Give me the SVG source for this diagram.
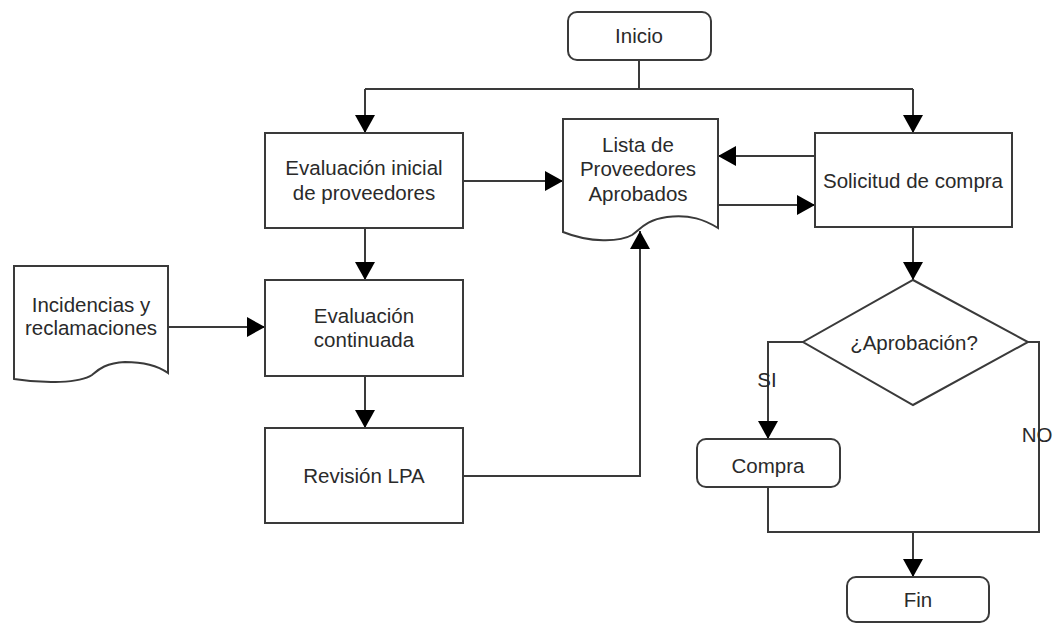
<svg xmlns="http://www.w3.org/2000/svg" width="1055" height="623" viewBox="0 0 1055 623">
<defs>
<marker id="ah" markerWidth="20" markerHeight="20" refX="18" refY="10" orient="auto" markerUnits="userSpaceOnUse">
<path d="M0,0 L18,10 L0,20 Z" fill="#000"/>
</marker>
<style>
.n{fill:#fff;stroke:#3a3a3a;stroke-width:2}
.t{font-family:"Liberation Sans",Arial,sans-serif;font-size:20.5px;fill:#2a2a2a;text-anchor:middle}
.c{fill:none;stroke:#3a3a3a;stroke-width:2}
.a{fill:none;stroke:#3a3a3a;stroke-width:2;marker-end:url(#ah)}
</style>
</defs>
<rect width="1055" height="623" fill="#fff"/>
<g id="connectors">
<path class="c" d="M639,60 V89 M365,89 H913"/>
<path class="a" d="M365,89 V133"/>
<path class="a" d="M913,89 V133"/>
<path class="a" d="M463,181 H563"/>
<path class="a" d="M815,156 H718"/>
<path class="a" d="M718,205 H815"/>
<path class="a" d="M365,228 V280"/>
<path class="a" d="M168,327 H265"/>
<path class="a" d="M365,376 V428"/>
<path class="a" d="M463,476 H640 V231"/>
<path class="a" d="M913,227 V280"/>
<path class="a" d="M803,342 H768 V439"/>
<path class="c" d="M1028,342 H1039 V532 H768 V487"/>
<path class="a" d="M913,532 V577"/>
<text class="t" x="767" y="387">SI</text>
<text class="t" x="1037" y="442">NO</text>
</g>
<g id="inicio">
<rect class="n" x="568" y="12" width="143" height="48" rx="9"/>
<text class="t" x="639" y="43">Inicio</text>
</g>
<g id="eval-inicial">
<rect class="n" x="265" y="133" width="198" height="95"/>
<text class="t" x="364" y="175">Evaluación inicial</text>
<text class="t" x="364" y="200">de proveedores</text>
</g>
<g id="lista">
<path class="n" d="M563,119 H718 V228 C705,220 690,214 667,217 C645,220 640,230 632,235 C620,242 590,243 563,232 Z"/>
<text class="t" x="638" y="152">Lista de</text>
<text class="t" x="638" y="176">Proveedores</text>
<text class="t" x="638" y="201">Aprobados</text>
</g>
<g id="solicitud">
<rect class="n" x="815" y="133" width="197" height="94"/>
<text class="t" x="913" y="188">Solicitud de compra</text>
</g>
<g id="incidencias">
<path class="n" d="M14,266 H168 V373 C158,366 145,362 125,362 C105,363 98,370 92,375 C80,383 45,384 14,379 Z"/>
<text class="t" x="91" y="312">Incidencias y</text>
<text class="t" x="91" y="335">reclamaciones</text>
</g>
<g id="eval-continuada">
<rect class="n" x="265" y="280" width="198" height="96"/>
<text class="t" x="364" y="323">Evaluación</text>
<text class="t" x="364" y="347">continuada</text>
</g>
<g id="revision">
<rect class="n" x="265" y="428" width="198" height="95"/>
<text class="t" x="364" y="483">Revisión LPA</text>
</g>
<g id="aprobacion">
<path class="n" d="M913,280 L1028,342 L913,405 L803,342 Z"/>
<text class="t" x="914" y="350">¿Aprobación?</text>
</g>
<g id="compra">
<rect class="n" x="697" y="439" width="143" height="48" rx="9"/>
<text class="t" x="768" y="473">Compra</text>
</g>
<g id="fin">
<rect class="n" x="847" y="577" width="142" height="45" rx="9"/>
<text class="t" x="918" y="607">Fin</text>
</g>
</svg>
